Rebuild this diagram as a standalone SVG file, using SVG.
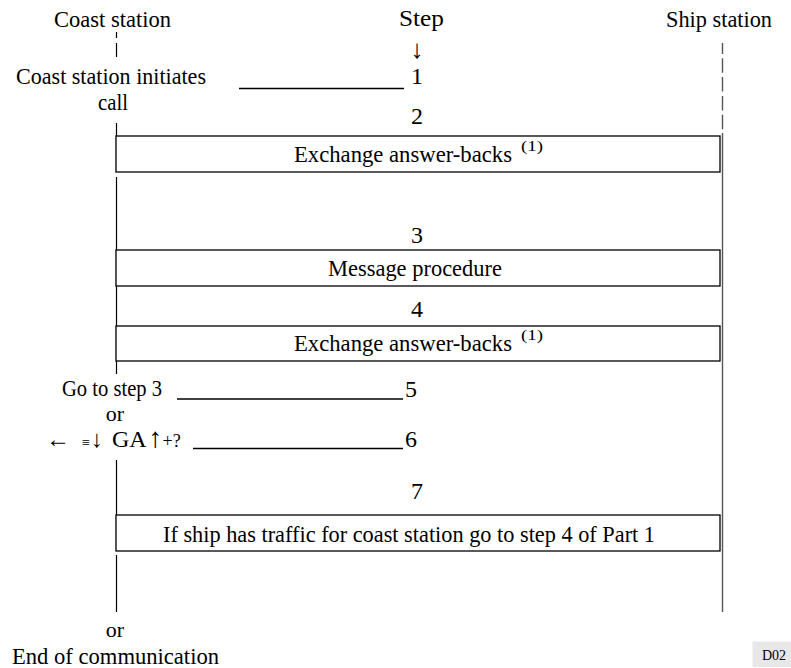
<svg xmlns="http://www.w3.org/2000/svg" width="791" height="668" viewBox="0 0 791 668">
<style>
text { font-family: "Liberation Serif", "DejaVu Serif", serif; font-size: 24px; fill: #000; }
.mid { text-anchor: middle; }
.sup { font-size: 15px; }
.box { fill: #fff; stroke: #000; stroke-width: 1.3; }
.life { stroke: #000; stroke-width: 1.2; fill: none; }
.ship { stroke: #555; stroke-width: 1.4; fill: none; }
.lead { stroke: #000; stroke-width: 1.3; fill: none; }
.boxtext { font-size: 23px; }
.tag { font-size: 14px; }
</style>
<rect width="791" height="668" fill="#fff"/>

<g id="connectors">
  <path class="life" d="M116.5,32 V38 M116.5,43 V57" />
  <path class="life" d="M116.5,123 V172 M116.5,177 V374 M116.5,460 V551 M116.5,555 V612" />
  <path class="ship" d="M722.5,43 V133" stroke-dasharray="11 4.3 14.5 4.3 14.5 4.3 14.5 4.3 14.5 4"/>
  <path class="ship" d="M722.5,133 V612" />
  <line class="lead" x1="239" y1="88.5" x2="404" y2="88.5"/>
  <line class="lead" x1="177" y1="399" x2="403" y2="399"/>
  <line class="lead" x1="193" y1="448.5" x2="403" y2="448.5"/>
</g>

<g id="header-coast"><text x="54" y="27" textLength="117" lengthAdjust="spacingAndGlyphs">Coast station</text></g>
<g id="header-step">
  <text x="399" y="26" textLength="45" lengthAdjust="spacingAndGlyphs">Step</text>
  <text class="mid" x="417" y="58" style="font-size:26px">↓</text>
</g>
<g id="header-ship"><text x="666" y="27" textLength="106" lengthAdjust="spacingAndGlyphs">Ship station</text></g>

<g id="initiate">
  <text x="16" y="84" textLength="190" lengthAdjust="spacingAndGlyphs">Coast station initiates</text>
  <text x="98" y="110" textLength="30" lengthAdjust="spacingAndGlyphs">call</text>
</g>

<g id="step1"><text class="mid" x="417" y="84">1</text></g>
<g id="step2"><text class="mid" x="417" y="124">2</text></g>

<g id="box-exchange-1">
  <rect class="box" x="116" y="136" width="604" height="36"/>
  <text class="boxtext" x="294" y="162" textLength="218" lengthAdjust="spacingAndGlyphs">Exchange answer-backs</text>
  <text class="sup" x="521" y="151" textLength="22" lengthAdjust="spacingAndGlyphs">(1)</text>
</g>

<g id="step3"><text class="mid" x="417" y="243">3</text></g>

<g id="box-message">
  <rect class="box" x="116" y="250" width="604" height="36"/>
  <text class="boxtext" x="328" y="276" textLength="174" lengthAdjust="spacingAndGlyphs">Message procedure</text>
</g>

<g id="step4"><text class="mid" x="417" y="317">4</text></g>

<g id="box-exchange-2">
  <rect class="box" x="116" y="326" width="604" height="35"/>
  <text class="boxtext" x="294" y="351" textLength="218" lengthAdjust="spacingAndGlyphs">Exchange answer-backs</text>
  <text class="sup" x="521" y="340" textLength="22" lengthAdjust="spacingAndGlyphs">(1)</text>
</g>

<g id="goto3">
  <text x="62" y="396" textLength="100" lengthAdjust="spacingAndGlyphs">Go to step 3</text>
  <text class="mid" x="115" y="421" style="font-size:22px">or</text>
</g>
<g id="step5"><text x="405" y="397">5</text></g>

<g id="signal">
  <text x="46" y="447">←<tspan font-size="14px" dx="12">≡</tspan><tspan dx="1">↓</tspan><tspan dx="9">GA</tspan><tspan dx="2" font-size="28px">↑</tspan><tspan font-size="18px">+?</tspan></text>
</g>
<g id="step6"><text x="405" y="447">6</text></g>

<g id="step7"><text class="mid" x="417" y="499">7</text></g>

<g id="box-traffic">
  <rect class="box" x="116" y="515" width="604" height="36"/>
  <text class="boxtext" x="163" y="542" textLength="492" lengthAdjust="spacingAndGlyphs">If ship has traffic for coast station go to step 4 of Part 1</text>
</g>

<g id="end">
  <text class="mid" x="115" y="637" style="font-size:22px">or</text>
  <text x="12" y="664" textLength="207" lengthAdjust="spacingAndGlyphs">End of communication</text>
</g>

<g id="tag">
  <rect x="752.5" y="641.5" width="38.5" height="25.5" fill="#e8e8e8"/>
  <text class="tag mid" x="774" y="660">D02</text>
</g>
</svg>
